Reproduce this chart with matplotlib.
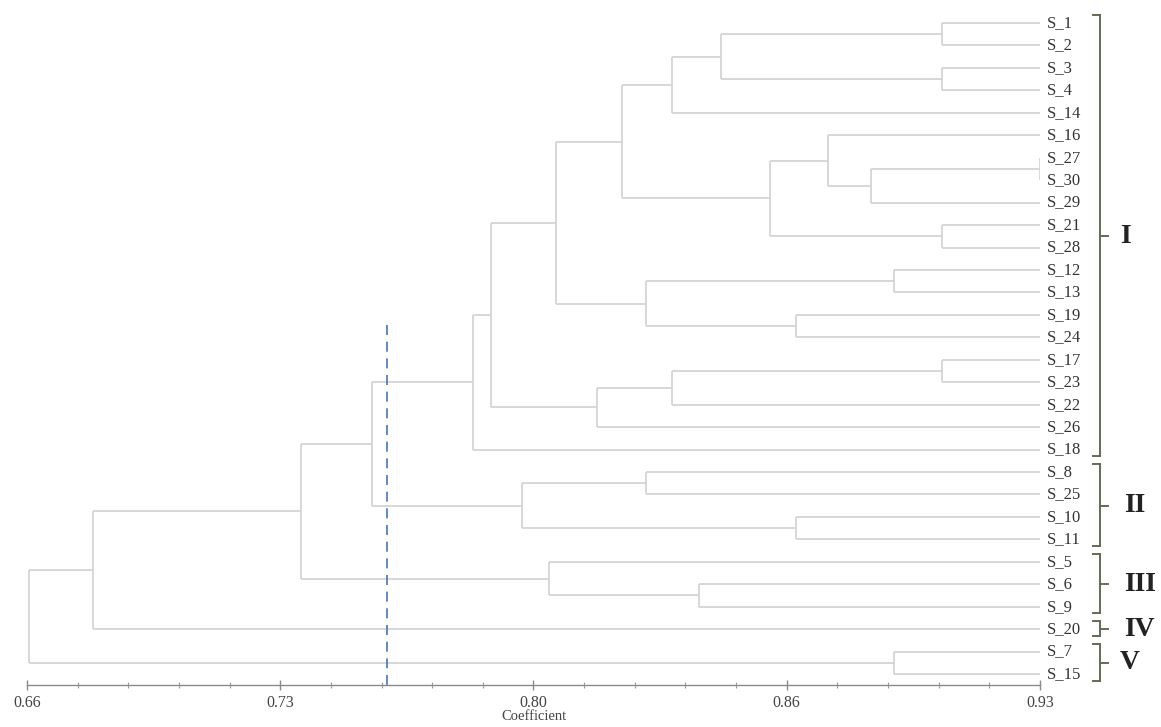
import numpy as np
import matplotlib
matplotlib.use("Agg")
import matplotlib.pyplot as plt
from matplotlib.ticker import AutoMinorLocator, FixedLocator, FixedFormatter
from matplotlib.transforms import ScaledTranslation

plt.rcParams['font.family'] = ['Liberation Serif', 'DejaVu Serif']

# ---------------- data ----------------
leaves = ["S_1", "S_2", "S_3", "S_4", "S_14", "S_16", "S_27", "S_30", "S_29",
          "S_21", "S_28", "S_12", "S_13", "S_19", "S_24", "S_17", "S_23",
          "S_22", "S_26", "S_18", "S_8", "S_25", "S_10", "S_11", "S_5", "S_6",
          "S_9", "S_20", "S_7", "S_15"]

merge_left = ["S_1", "S_3", "a", "c", "S_27", "e", "S_16", "S_21", "g", "d",
              "S_12", "S_19", "k", "j", "S_17", "o", "p", "n", "r", "S_8",
              "S_10", "t", "s", "S_6", "S_5", "w", "z", "S_7", "aa"]
merge_right = ["S_2", "S_4", "b", "S_14", "S_30", "S_29", "f", "S_28", "h", "i",
               "S_13", "S_24", "l", "m", "S_23", "S_22", "S_26", "q", "S_18",
               "S_25", "S_11", "u", "v", "S_9", "x", "y", "S_20", "S_15", "bb"]
merge_name = ["a", "b", "c", "d", "e", "f", "g", "h", "i", "j",
              "k", "l", "m", "n", "o", "p", "q", "r", "s", "t",
              "u", "v", "w", "x", "y", "z", "aa", "bb", "root"]
merge_value = [0.904, 0.904, 0.845, 0.832, 0.930, 0.885, 0.8735, 0.904, 0.858, 0.8186,
               0.891, 0.865, 0.825, 0.801, 0.904, 0.832, 0.812, 0.7837, 0.779, 0.825,
               0.865, 0.792, 0.752, 0.839, 0.799, 0.733, 0.6776, 0.891, 0.6605]

groups = ["I", "II", "III", "IV", "V"]
group_first = ["S_1", "S_8", "S_5", "S_20", "S_7"]
group_last = ["S_18", "S_11", "S_9", "S_20", "S_15"]

tick_values = [0.66, 0.7275, 0.795, 0.8625, 0.93]
tick_labels = ["0.66", "0.73", "0.80", "0.86", "0.93"]
cut_value = 0.756
cut_top_row = 13.45
x_label = "Coefficient"

# ---------------- figure ----------------
W, H = 1161, 727
fig = plt.figure(figsize=(W / 100, H / 100), dpi=100)
ax_left, ax_right = 27 / W, 1040 / W
ax_top_px, ax_bot_px = 10, 685
ax = fig.add_axes([ax_left, (H - ax_bot_px) / H, ax_right - ax_left,
                   (ax_bot_px - ax_top_px) / H])

row_px0, row_dpx = 23, 22.45
ax.set_xlim(tick_values[0], tick_values[-1])
ax.set_ylim((ax_bot_px - row_px0) / row_dpx, (ax_top_px - row_px0) / row_dpx)

xmax = tick_values[-1]
pos = {name: (xmax, i) for i, name in enumerate(leaves)}
line_col = "#d3d5d3"
for l, r, n, v in zip(merge_left, merge_right, merge_name, merge_value):
    xl, yl = pos[l]
    xr, yr = pos[r]
    ax.plot([v, v], [yl, yr], color=line_col, lw=1.3, solid_capstyle="butt")
    ax.plot([v, xl], [yl, yl], color=line_col, lw=1.3, solid_capstyle="butt")
    ax.plot([v, xr], [yr, yr], color=line_col, lw=1.3, solid_capstyle="butt")
    pos[n] = (v, (yl + yr) / 2)

# cut line
ax.plot([cut_value, cut_value], [cut_top_row, ax.get_ylim()[0]], color="#4477bb",
        lw=1.2, ls=(0, (6, 4)), clip_on=False)


def off(dx_px):
    return ax.transData + ScaledTranslation(dx_px / 100, 0, fig.dpi_scale_trans)


# leaf labels
for i, name in enumerate(leaves):
    ax.text(xmax, i, name, transform=off(7), ha="left", va="center",
            fontsize=12, color="#333333", clip_on=False)

# group brackets
br_col = "#5f6e52"
for g, f, la in zip(groups, group_first, group_last):
    y0 = leaves.index(f) - 0.36
    y1 = leaves.index(la) + 0.30
    ym = (leaves.index(f) + leaves.index(la)) / 2
    ax.plot([xmax, xmax], [y0, y1], color=br_col, lw=1.4, transform=off(60),
            clip_on=False)
    for yy in (y0, y1):
        ax.plot([xmax, xmax], [yy, yy], color=br_col, lw=1.4, transform=off(53),
                clip_on=False)
    ax.plot([xmax, xmax + 7 / 3752], [y0, y0], color=br_col, lw=1.4,
            transform=off(53), clip_on=False)
    ax.plot([xmax, xmax + 7 / 3752], [y1, y1], color=br_col, lw=1.4,
            transform=off(53), clip_on=False)
    ax.plot([xmax, xmax + 8 / 3752], [ym, ym], color=br_col, lw=1.4,
            transform=off(60), clip_on=False)
    ax.text(xmax, ym, g, transform=off(80 if len(g) == 1 else 84), ha="left",
            va="center", fontsize=20, fontweight="bold", color="#222222",
            clip_on=False)

# axes styling
for s in ["top", "right", "left"]:
    ax.spines[s].set_visible(False)
ax.spines["bottom"].set_color("#8a8a8a")
ax.spines["bottom"].set_linewidth(1.0)
ax.set_yticks([])
ax.xaxis.set_major_locator(FixedLocator(tick_values))
ax.xaxis.set_major_formatter(FixedFormatter(tick_labels))
ax.xaxis.set_minor_locator(AutoMinorLocator(5))
ax.tick_params(axis="x", which="major", direction="inout", length=7, width=1,
               color="#8a8a8a", labelsize=11.5, labelcolor="#444444", pad=4)
ax.tick_params(axis="x", which="minor", direction="inout", length=4, width=0.8,
               color="#9a9a9a")
ax.set_xlabel(x_label, fontsize=10.5, color="#444444", labelpad=-1)

fig.savefig("out.png", dpi=100)
